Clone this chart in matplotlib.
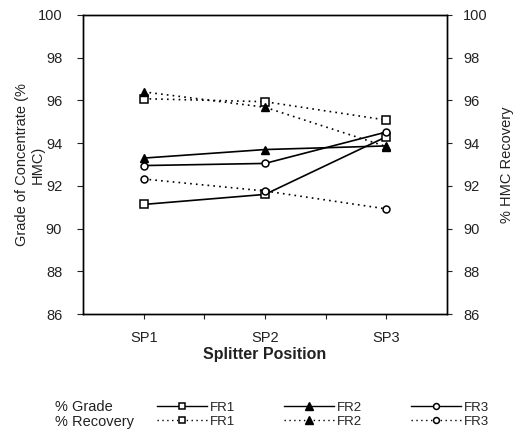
import matplotlib
matplotlib.use("Agg")
import matplotlib.pyplot as plt
from matplotlib.lines import Line2D

plt.rcParams['font.family'] = ['Liberation Sans', 'DejaVu Sans']

positions = ["SP1", "SP2", "SP3"]
grade_fr1 = [91.13, 91.6, 94.3]
grade_fr2 = [93.3, 93.7, 93.87]
grade_fr3 = [92.95, 93.05, 94.52]
recovery_fr1 = [96.08, 95.94, 95.08]
recovery_fr2 = [96.4, 95.68, 93.84]
recovery_fr3 = [92.32, 91.76, 90.92]
yticks = [86, 88, 90, 92, 94, 96, 98, 100]

fig = plt.figure(figsize=(5.23, 4.33), dpi=100)
ax = fig.add_axes([0.1587, 0.2748, 0.6960, 0.6906])
ax2 = ax.twinx()

x = [1, 2, 3]
styles = {
    'FR1': dict(marker='s', markersize=5.5, markerfacecolor='white', markeredgecolor='black', markeredgewidth=1.1),
    'FR2': dict(marker='^', markersize=6, markerfacecolor='black', markeredgecolor='black'),
    'FR3': dict(marker='o', markersize=5, markerfacecolor='white', markeredgecolor='black', markeredgewidth=1.1),
}
dotted = (0, (1, 2.5))
for name, vals in [('FR1', grade_fr1), ('FR2', grade_fr2), ('FR3', grade_fr3)]:
    ax.plot(x, vals, color='black', linewidth=1.2, linestyle='-', **styles[name], zorder=3)
for name, vals in [('FR1', recovery_fr1), ('FR2', recovery_fr2), ('FR3', recovery_fr3)]:
    ax2.plot(x, vals, color='black', linewidth=1.2, linestyle=dotted, **styles[name], zorder=3)

for a in (ax, ax2):
    a.set_ylim(86, 100)
    a.set_yticks(yticks)
    for s in a.spines.values():
        s.set_linewidth(1.0)
ax.tick_params(axis='y', labelsize=10.5, length=4.5, width=0.8, pad=10.5, colors='#222222')
ax2.tick_params(axis='y', labelsize=10.5, length=3.5, width=0.8, pad=8, colors='#222222')
ax.set_xlim(0.5, 3.5)
ax.set_xticks([1, 1.5, 2, 2.5, 3])
ax.set_xticklabels([positions[0], '', positions[1], '', positions[2]])
ax.tick_params(axis='x', labelsize=10.5, length=3.5, width=0.8, pad=9, colors='#222222')

ax.set_ylabel("Grade of Concentrate (%\nHMC)", fontsize=10.5, color='#222222')
ax.yaxis.set_label_coords(-0.105, 0.5)
ax2.set_ylabel("% HMC Recovery", fontsize=10.5, color='#222222')
ax2.yaxis.set_label_coords(1.145, 0.5)
ax.set_xlabel("Splitter Position", fontsize=11.5, fontweight='bold', labelpad=1, color='#222222')

# legend
handles = []
labels = []
for name in ['FR1', 'FR2', 'FR3']:
    st = dict(styles[name])
    st['markersize'] = st['markersize'] * 0.85
    handles.append(Line2D([], [], color='black', linewidth=1.0, linestyle='-', **st))
    labels.append(name)
    handles.append(Line2D([], [], color='black', linewidth=1.0, linestyle=dotted, **st))
    labels.append(name)
fig.legend(handles, labels, ncol=3, loc='center left', bbox_to_anchor=(0.288, 0.042),
           frameon=False, fontsize=9.5, handlelength=3.8, handletextpad=0.2,
           columnspacing=3.7, labelspacing=0.15, borderpad=0, labelcolor='#222222')
fig.text(0.105, 0.060, "% Grade", fontsize=10.5, va='center', ha='left', color='#222222')
fig.text(0.105, 0.025, "% Recovery", fontsize=10.5, va='center', ha='left', color='#222222')

fig.savefig("out.png", dpi=100)
